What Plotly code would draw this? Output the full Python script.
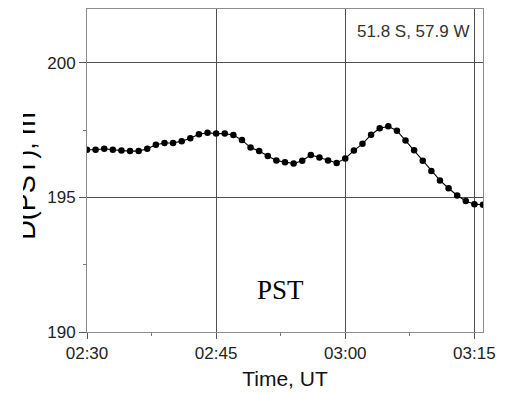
import pandas as pd
import plotly.graph_objects as go

# D(PST) values, one per minute starting 02:30 UT
values = [196.77, 196.77, 196.81, 196.77, 196.74, 196.72, 196.72, 196.81, 196.96, 197.02,
          197.02, 197.09, 197.20, 197.35, 197.40, 197.37, 197.37, 197.32, 197.13, 196.85,
          196.72, 196.54, 196.37, 196.31, 196.26, 196.36, 196.58, 196.48, 196.37, 196.28,
          196.45, 196.74, 196.99, 197.33, 197.57, 197.64, 197.48, 197.11, 196.75, 196.36,
          195.98, 195.63, 195.34, 195.07, 194.87, 194.75, 194.73]
times = pd.date_range("2000-01-01 02:30", periods=len(values), freq="1min")

x_range = ["2000-01-01 02:30", "2000-01-01 03:16"]
y_range = [190, 202]
location_label = "51.8 S, 57.9 W"
panel_label = "PST"
x_title = "Time, UT"
y_title = "D(PST), m"

fig = go.Figure()
fig.add_trace(go.Scatter(
    x=times, y=values, mode="lines+markers",
    line=dict(color="black", width=1.1),
    marker=dict(color="black", size=6.5),
    showlegend=False,
))

axis_font = dict(family="Liberation Sans, Arial", size=17, color="#222")
fig.update_xaxes(
    type="date", range=x_range, tick0="2000-01-01 02:30", dtick=900000,
    tickformat="%H:%M", ticks="outside", ticklen=6, tickcolor="#555",
    showline=True, linecolor="#8c8c8c", linewidth=1, mirror=True,
    showgrid=True, gridcolor="#505050", gridwidth=1, zeroline=False,
    tickfont=axis_font,
    minor=dict(ticks="outside", ticklen=3, dtick=450000, tickcolor="#777", showgrid=False),
    title=dict(text=x_title, font=dict(family="Liberation Sans, Arial", size=21, color="#111"), standoff=8),
)
fig.update_yaxes(
    range=y_range, tick0=190, dtick=5, ticks="outside", ticklen=7, tickcolor="#555",
    showline=True, linecolor="#8c8c8c", linewidth=1, mirror=True,
    showgrid=True, gridcolor="#505050", gridwidth=1, zeroline=False,
    tickfont=axis_font,
    minor=dict(ticks="outside", ticklen=3, dtick=2.5, tickcolor="#777", showgrid=False),
)

fig.add_annotation(text=location_label, xref="paper", yref="paper", x=0.97, y=0.93,
                   xanchor="right", yanchor="middle", showarrow=False,
                   font=dict(family="Liberation Sans, Arial", size=17, color="#333"))
fig.add_annotation(text=panel_label, xref="paper", yref="paper", x=0.4886, y=0.13,
                   xanchor="center", yanchor="middle", showarrow=False,
                   font=dict(family="Liberation Serif, Times New Roman", size=27, color="black"))
# y title, partly cut off at the left edge as in the reference
fig.add_annotation(text=y_title, xref="paper", yref="paper", x=-0.153, y=0.485,
                   xanchor="center", yanchor="middle", showarrow=False, textangle=-90,
                   font=dict(family="Liberation Sans, Arial", size=27, color="black"))
fig.add_annotation(text=" ", xref="paper", yref="paper", x=-0.1624, y=0.485,
                   xanchor="right", yanchor="middle", showarrow=False,
                   width=40, height=220, bgcolor="white", borderpad=0, borderwidth=0)

fig.update_layout(
    width=508, height=394,
    margin=dict(l=87, r=25, t=8, b=58),
    paper_bgcolor="white", plot_bgcolor="white",
)
fig.write_html("out.html")
